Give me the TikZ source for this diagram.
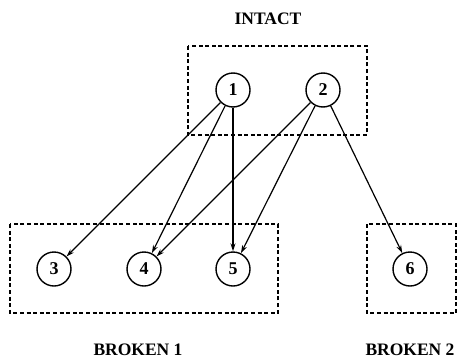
\documentclass[tikz,border=0pt]{standalone}
\usepackage{fontspec}
\setmainfont{Liberation Serif}
\usetikzlibrary{arrows.meta}
\begin{document}
\begin{tikzpicture}[x=1pt, y=-1pt,
  vertex/.style = {shape=circle, draw, line width=1.4pt, minimum size=34pt,
    inner sep=0pt, font=\fontsize{18}{20}\selectfont\bfseries},
  region/.style = {draw, dash pattern=on 4pt off 2.6pt, line width=1.2pt},
  title/.style = {anchor=base, font=\fontsize{17.5}{20}\selectfont\bfseries},
  link/.style = {-{Stealth[length=8pt,width=5pt]}, line width=1.2pt}
  ]
  \useasboundingbox (0,0) rectangle (457,359);
  % groups
  \draw[region] (188,46) rectangle (367,135);
  \draw[region] (10,224) rectangle (278,313);
  \draw[region] (367,224) rectangle (456,313);
  \node[title] (intact) at (268,24) {INTACT};
  \node[title] (broken1) at (138,355) {BROKEN 1};
  \node[title] (broken2) at (410,355) {BROKEN 2};
  % states
  \node[vertex] (n1) at (233,90) {1};
  \node[vertex] (n2) at (323,90) {2};
  \node[vertex] (n3) at (54,269) {3};
  \node[vertex] (n4) at (144,269) {4};
  \node[vertex] (n5) at (233,269) {5};
  \node[vertex] (n6) at (410,269) {6};
  % transitions
  \draw[link] (n1) -- (n3);
  \draw[link] (n1) -- (n4);
  \draw[link] (n1) -- (n5);
  \draw[link] (n2) -- (n4);
  \draw[link] (n2) -- (n5);
  \draw[link] (n2) -- (n6);
\end{tikzpicture}
\end{document}
